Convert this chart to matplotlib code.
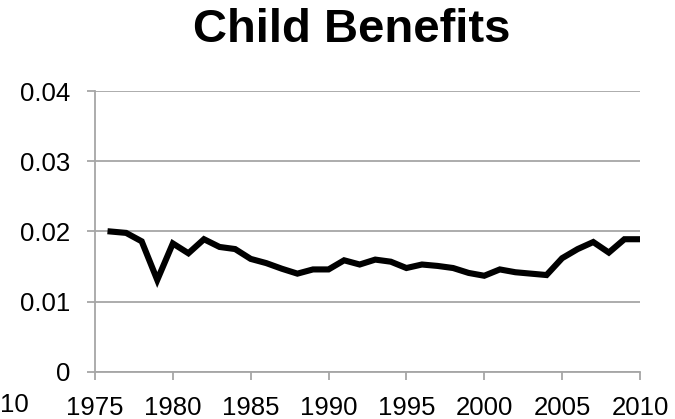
import matplotlib
matplotlib.use('Agg')
import matplotlib.pyplot as plt

# Years and benefit share
years = list(range(1976, 2011))
benefits = [0.0200, 0.0198, 0.0186, 0.0131, 0.0183, 0.0169, 0.0189, 0.0178,
            0.0175, 0.0161, 0.0155, 0.0147, 0.0140, 0.0146, 0.0146, 0.0159,
            0.0153, 0.0160, 0.0157, 0.0148, 0.0153, 0.0151, 0.0148, 0.0141,
            0.0137, 0.0146, 0.0142, 0.0140, 0.0138, 0.0162, 0.0175, 0.0185,
            0.0170, 0.0189, 0.0189]

x_ticks = [1975, 1980, 1985, 1990, 1995, 2000, 2005, 2010]
y_ticks = [0, 0.01, 0.02, 0.03, 0.04]
y_labels = ['0', '0.01', '0.02', '0.03', '0.04']

plt.rcParams['font.family'] = ['Liberation Sans', 'DejaVu Sans']
grey = '#a6a6a6'

fig = plt.figure(figsize=(6.75, 4.19), dpi=100)
ax = fig.add_axes([0.1407, 0.1122, 0.8074, 0.6706])

ax.plot(years, benefits, color='black', linewidth=4.4, solid_joinstyle='miter')

ax.set_xlim(1975, 2010)
ax.set_ylim(0, 0.04)
ax.set_xticks(x_ticks)
ax.set_yticks(y_ticks)
ax.set_yticklabels(y_labels)
ax.grid(axis='y', color=grey, linewidth=1.3)
ax.set_axisbelow(True)

for side in ['top', 'right']:
    ax.spines[side].set_visible(False)
for side in ['left', 'bottom']:
    ax.spines[side].set_color(grey)
    ax.spines[side].set_linewidth(1.3)

ax.tick_params(axis='both', direction='out', length=6, width=1.3, color=grey,
               labelsize=18.5, labelcolor='black')
ax.tick_params(axis='y', pad=12)
ax.tick_params(axis='x', pad=11)

fig.suptitle('Child Benefits', fontsize=34, fontweight='bold', x=0.521, y=0.98, va='top')

# part of a neighbouring chart's axis label, cut off at the left edge
fig.text(0.0, 0.016, '10', fontsize=18.5, ha='left', va='baseline')

fig.savefig('out.png', dpi=100)
